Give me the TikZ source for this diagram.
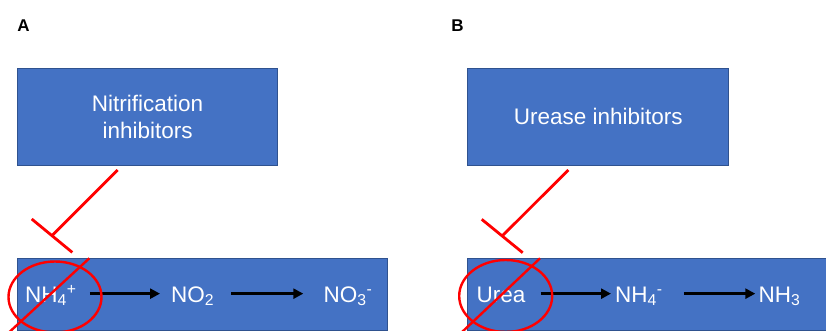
\documentclass[tikz,border=0pt]{standalone}
\usepackage{fontspec}
\setmainfont{Liberation Sans}
\usetikzlibrary{arrows.meta}
\definecolor{boxblue}{HTML}{4472C4}
\definecolor{boxedge}{HTML}{2F528F}
\definecolor{inhred}{HTML}{FF0000}
\tikzset{
  panel/.style={draw=boxedge, line width=0.8pt, fill=boxblue, text=white,
    font=\fontsize{22.5}{27}\selectfont, align=center, inner sep=0pt,
    anchor=north west},
  species/.style={text=white, font=\fontsize{22.5}{27}\selectfont,
    inner xsep=0pt, inner ysep=0pt, text height=16.7pt, text depth=0pt,
    anchor=base west},
  flow/.style={line width=2.6pt, -{Triangle[length=10pt,width=10pt]}},
  inhibit/.style={draw=inhred, line width=2.8pt},
  crossout/.style={draw=inhred, line width=2.4pt},
  panellabel/.style={font=\bfseries\fontsize{17}{20}\selectfont, inner sep=0pt,
    anchor=base west}
}
\begin{document}
\begin{tikzpicture}[x=1pt,y=-1pt]
\clip (0,0) rectangle (826,331);
\fill[white] (0,0) rectangle (826,331);

% panel letters
\node[panellabel] (labA) at (17.2,32) {A};
\node[panellabel] (labB) at (451.2,32) {B};

% ---------- A: nitrification ----------
\node[panel, minimum width=259.7pt, minimum height=97pt] (nitinh) at (17.3,68)
  {Nitrification\\[-0.5pt]inhibitors};
\node[panel, minimum width=369.4pt, minimum height=72pt] (pathA) at (17.3,258) {};

\node[species] (nh4) at (25,302) {NH\textsubscript{4}\textsuperscript{+}};
\node[species] (no2) at (171,302) {NO\textsubscript{2}};
\node[species] (no3) at (323.3,302) {NO\textsubscript{3}\textsuperscript{-}};

\draw[flow] ([xshift=13pt]nh4.east) -- ([xshift=-11pt]no2.west);
\draw[flow] ([xshift=17pt]no2.east) -- ([xshift=-20pt]no3.west);

% inhibition bar
\coordinate (inhA1) at (117.7,170);
\coordinate (inhA2) at (52,235.7);
\coordinate (barA1) at (31.7,219);
\coordinate (barA2) at (72.3,252.4);
\draw[inhibit] (inhA1) -- (inhA2);
\draw[inhibit] (barA1) -- (barA2);

% crossed-out substrate
\coordinate (crA) at (55,297);
\draw[crossout] (crA) ellipse [x radius=46.5pt, y radius=35.5pt];
\coordinate (slA1) at (89.3,258.3);
\coordinate (slA2) at (7.8,333.5);
\draw[crossout] (slA1) -- (slA2);

% ---------- B: urea hydrolysis ----------
\node[panel, minimum width=261pt, minimum height=97pt] (ureinh) at (467.3,68)
  {Urease inhibitors};
\node[panel, minimum width=380pt, minimum height=72pt] (pathB) at (467.3,258) {};

\node[species] (urea) at (476.5,302) {Urea};
\node[species] (nh4b) at (615,302) {NH\textsubscript{4}\textsuperscript{-}};
\node[species] (nh3) at (758.3,302) {NH\textsubscript{3}};

\draw[flow] ([xshift=15pt]urea.east) -- ([xshift=-4pt]nh4b.west);
\draw[flow] ([xshift=21pt]nh4b.east) -- ([xshift=-3pt]nh3.west);

\coordinate (inhB1) at (568.3,170);
\coordinate (inhB2) at (502.2,236);
\coordinate (barB1) at (481.7,219.3);
\coordinate (barB2) at (522.7,252.7);
\draw[inhibit] (inhB1) -- (inhB2);
\draw[inhibit] (barB1) -- (barB2);

\coordinate (crB) at (505.7,296);
\draw[crossout] (crB) ellipse [x radius=46.5pt, y radius=36pt];
\coordinate (slB1) at (540,258.3);
\coordinate (slB2) at (460.5,333.5);
\draw[crossout] (slB1) -- (slB2);
\end{tikzpicture}
\end{document}
